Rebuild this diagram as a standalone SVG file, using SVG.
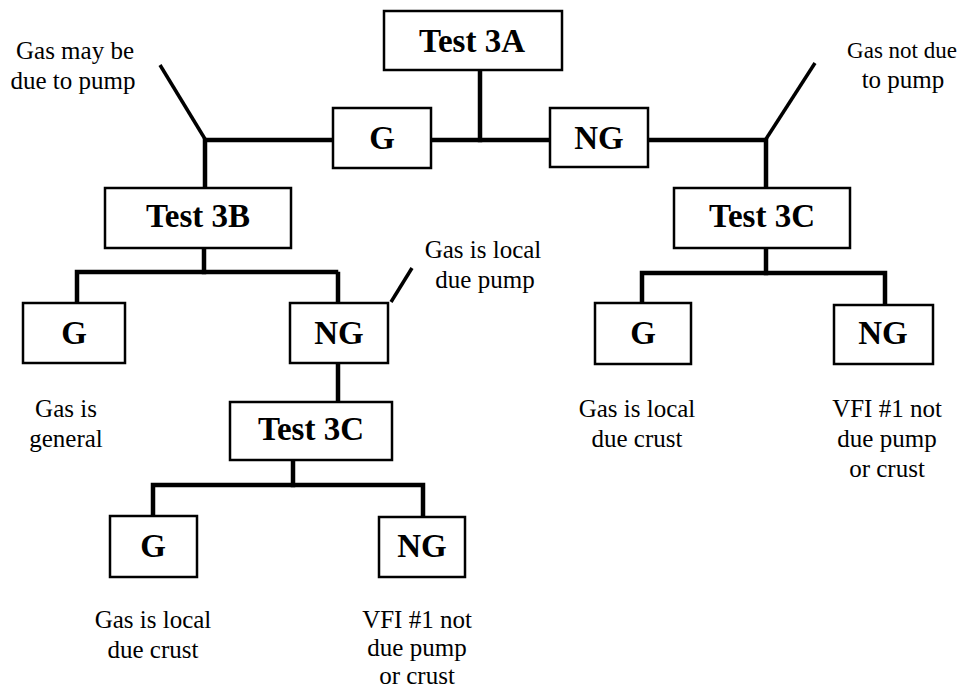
<svg xmlns="http://www.w3.org/2000/svg" width="961" height="691" viewBox="0 0 961 691">
<style>
.box{fill:#fff;stroke:#000;stroke-width:2.5}
.b{font-family:"Liberation Serif","Times New Roman",serif;font-weight:bold;font-size:33px;text-anchor:middle;fill:#000}
.t{font-family:"Liberation Serif","Times New Roman",serif;font-size:25px;text-anchor:middle;fill:#000}
.c{fill:none;stroke:#000;stroke-width:4.5;stroke-linecap:square}
.d{fill:none;stroke:#000;stroke-width:3.5}
</style>
<rect width="961" height="691" fill="#fff"/>
<g id="connectors">
<polyline class="c" points="480,70 480,140"/>
<polyline class="c" points="205,188 205,140 766,140 766,188"/>
<line class="d" x1="205" y1="139" x2="160" y2="65"/>
<line class="d" x1="766" y1="139" x2="815" y2="63"/>
<polyline class="c" points="204,248 204,272"/>
<polyline class="c" points="77,303 77,272 336,272"/>
<polyline class="c" points="338,274 338,303"/>
<line class="d" x1="391" y1="302" x2="412" y2="268"/>
<polyline class="c" points="338,363 338,402"/>
<polyline class="c" points="766,248 766,273"/>
<polyline class="c" points="642,303 642,273 885,273 885,305"/>
<polyline class="c" points="293,460 293,485"/>
<polyline class="c" points="153,516 153,485 423,485 423,517"/>
</g>
<g id="test3a"><rect class="box" x="384" y="11" width="178" height="59"/><text class="b" x="472" y="52">Test 3A</text></g>
<g id="g1"><rect class="box" x="333" y="108" width="98" height="60"/><text class="b" x="382" y="149">G</text></g>
<g id="ng1"><rect class="box" x="550" y="108" width="98" height="59"/><text class="b" x="599" y="149">NG</text></g>
<g id="test3b"><rect class="box" x="105" y="188" width="186" height="60"/><text class="b" x="198" y="227">Test 3B</text></g>
<g id="test3c-right"><rect class="box" x="674" y="188" width="176" height="60"/><text class="b" x="762" y="227">Test 3C</text></g>
<g id="g2"><rect class="box" x="23" y="303" width="102" height="60"/><text class="b" x="74" y="344">G</text></g>
<g id="ng2"><rect class="box" x="290" y="303" width="98" height="60"/><text class="b" x="339" y="344">NG</text></g>
<g id="g3"><rect class="box" x="595" y="303" width="96" height="61"/><text class="b" x="643" y="344">G</text></g>
<g id="ng3"><rect class="box" x="834" y="305" width="99" height="59"/><text class="b" x="883" y="344">NG</text></g>
<g id="test3c-mid"><rect class="box" x="230" y="402" width="162" height="58"/><text class="b" x="311" y="440">Test 3C</text></g>
<g id="g4"><rect class="box" x="110" y="516" width="87" height="61"/><text class="b" x="153" y="557">G</text></g>
<g id="ng4"><rect class="box" x="379" y="517" width="86" height="60"/><text class="b" x="422" y="557">NG</text></g>
<g id="labels">
<text class="t" x="75" y="59">Gas may be</text>
<text class="t" x="73" y="89">due to pump</text>
<text class="t" x="902" y="58" style="font-size:23px">Gas not due</text>
<text class="t" x="903" y="88">to pump</text>
<text class="t" x="483" y="258">Gas is local</text>
<text class="t" x="485" y="288">due pump</text>
<text class="t" x="66" y="417">Gas is</text>
<text class="t" x="66" y="447">general</text>
<text class="t" x="637" y="417">Gas is local</text>
<text class="t" x="637" y="447">due crust</text>
<text class="t" x="887" y="417">VFI #1 not</text>
<text class="t" x="887" y="447">due pump</text>
<text class="t" x="887" y="477">or crust</text>
<text class="t" x="153" y="628">Gas is local</text>
<text class="t" x="153" y="658">due crust</text>
<text class="t" x="417" y="628">VFI #1 not</text>
<text class="t" x="417" y="656">due pump</text>
<text class="t" x="417" y="684">or crust</text>
</g>
</svg>
